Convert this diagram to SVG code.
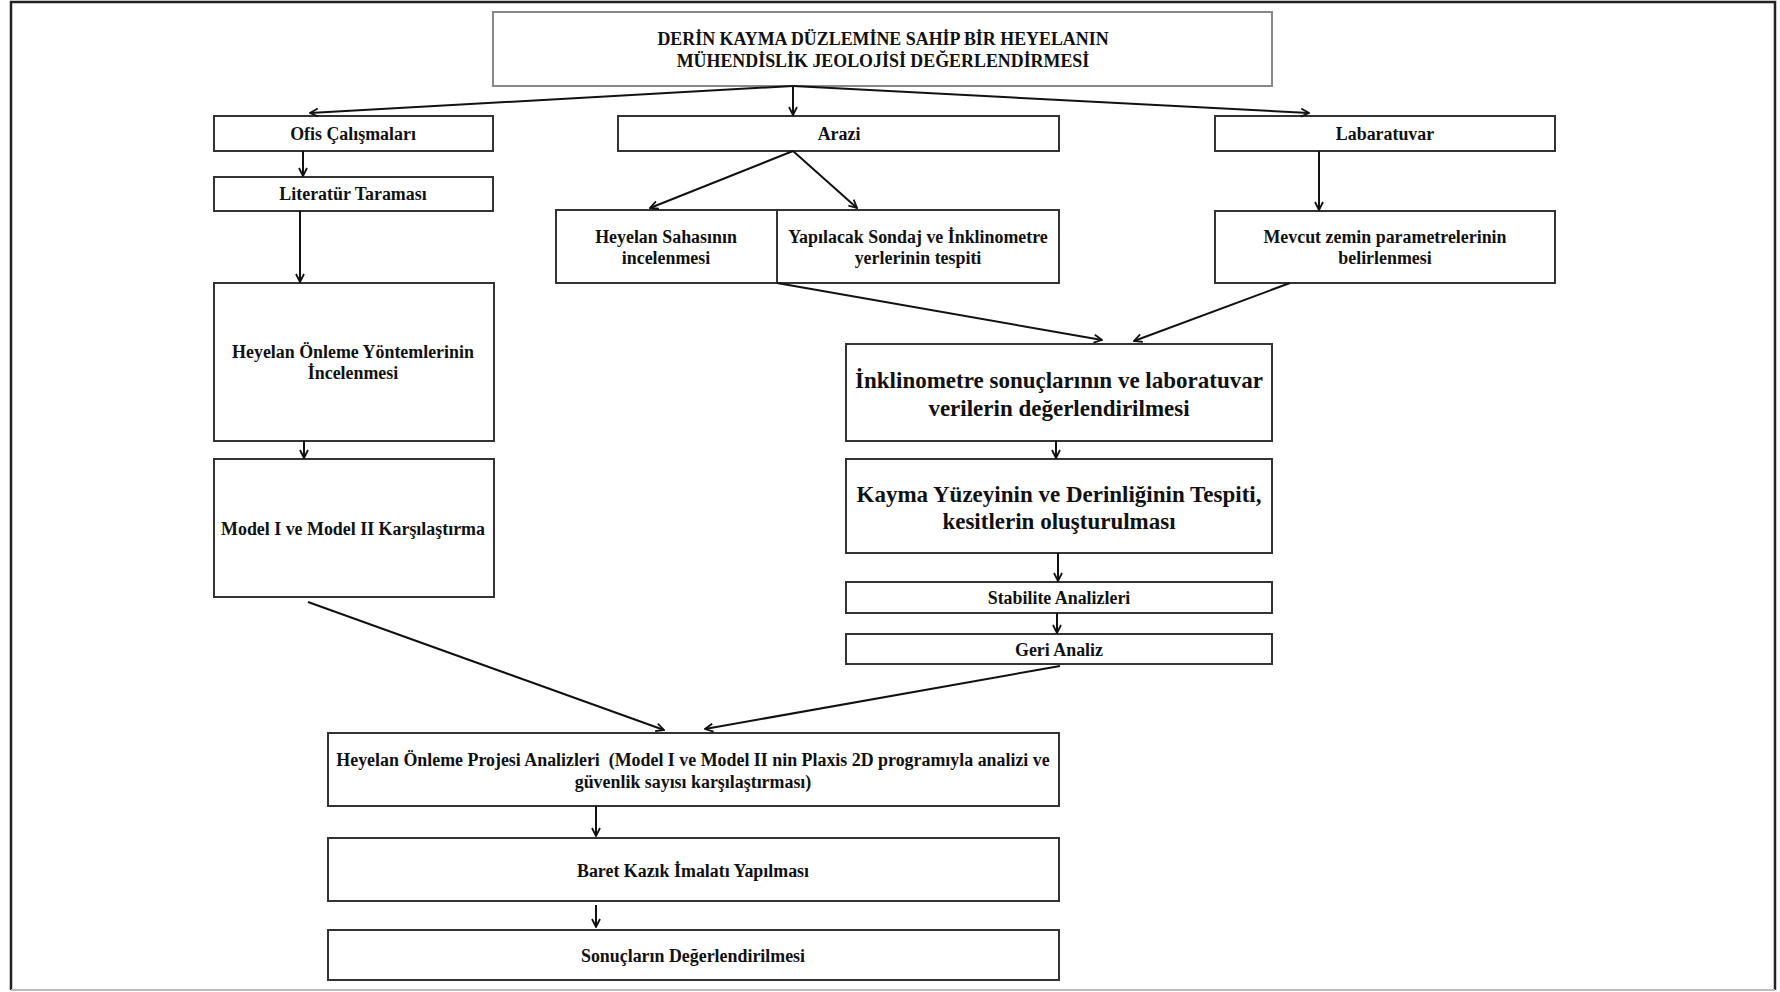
<svg xmlns="http://www.w3.org/2000/svg" width="1780" height="992" viewBox="0 0 1780 992">
<defs>
<style>
.box{fill:#fff;stroke:#333;stroke-width:2}
.tbox{fill:#fff;stroke:#888;stroke-width:2}
.t{font-family:"Liberation Serif","Times New Roman",serif;font-weight:bold;font-size:17.9px;fill:#111;text-anchor:middle;dominant-baseline:central}
.tl{font-family:"Liberation Serif","Times New Roman",serif;font-weight:bold;font-size:23px;fill:#111;text-anchor:middle;dominant-baseline:central}
.c{fill:none;stroke:#111;stroke-width:2}
</style>
<marker id="ah" viewBox="0 0 10 10" refX="9" refY="5" markerWidth="10" markerHeight="10" markerUnits="userSpaceOnUse" orient="auto">
<path d="M1,1 L9,5 L1,9" fill="none" stroke="#111" stroke-width="1.8"/>
</marker>
</defs>
<rect x="0" y="0" width="1780" height="992" fill="#fff"/>
<path id="frame" d="M11,990 L11,2 L1775,2 L1775,990" fill="none" stroke="#222" stroke-width="2.5"/>
<line x1="11" y1="990" x2="1775" y2="990" stroke="#bbb" stroke-width="2"/>

<g id="title"><rect class="tbox" x="493" y="12" width="779" height="74"/>
<text class="t" x="883" y="39">DERİN KAYMA DÜZLEMİNE SAHİP BİR HEYELANIN</text>
<text class="t" x="883" y="61">MÜHENDİSLİK JEOLOJİSİ DEĞERLENDİRMESİ</text></g>

<g id="ofis"><rect class="box" x="214" y="116" width="279" height="35"/><text class="t" x="353" y="134">Ofis Çalışmaları</text></g>
<g id="arazi"><rect class="box" x="618" y="116" width="441" height="35"/><text class="t" x="839" y="134">Arazi</text></g>
<g id="lab"><rect class="box" x="1215" y="116" width="340" height="35"/><text class="t" x="1385" y="134">Labaratuvar</text></g>

<g id="literatur"><rect class="box" x="214" y="177" width="279" height="34"/><text class="t" x="353" y="194">Literatür Taraması</text></g>

<g id="sahasi"><rect class="box" x="556" y="210" width="221" height="73"/>
<text class="t" x="666" y="237">Heyelan Sahasının</text><text class="t" x="666" y="258">incelenmesi</text></g>
<g id="sondaj"><rect class="box" x="777" y="210" width="282" height="73"/>
<text class="t" x="918" y="237">Yapılacak Sondaj ve İnklinometre</text><text class="t" x="918" y="258">yerlerinin tespiti</text></g>
<g id="mevcut"><rect class="box" x="1215" y="211" width="340" height="72"/>
<text class="t" x="1385" y="237">Mevcut zemin parametrelerinin</text><text class="t" x="1385" y="258">belirlenmesi</text></g>

<g id="yontem"><rect class="box" x="214" y="283" width="280" height="158"/>
<text class="t" x="353" y="352">Heyelan Önleme Yöntemlerinin</text><text class="t" x="353" y="373">İncelenmesi</text></g>
<g id="model"><rect class="box" x="214" y="459" width="280" height="138"/>
<text class="t" x="353" y="529">Model I ve Model II Karşılaştırma</text></g>

<g id="inklino"><rect class="box" x="846" y="344" width="426" height="97"/>
<text class="tl" x="1059" y="380">İnklinometre sonuçlarının ve laboratuvar</text><text class="tl" x="1059" y="408">verilerin değerlendirilmesi</text></g>
<g id="kayma"><rect class="box" x="846" y="459" width="426" height="94"/>
<text class="tl" x="1059" y="494">Kayma Yüzeyinin ve Derinliğinin Tespiti,</text><text class="tl" x="1059" y="521">kesitlerin oluşturulması</text></g>
<g id="stabilite"><rect class="box" x="846" y="582" width="426" height="31"/><text class="t" x="1059" y="598">Stabilite Analizleri</text></g>
<g id="geri"><rect class="box" x="846" y="634" width="426" height="30"/><text class="t" x="1059" y="650">Geri Analiz</text></g>

<g id="proje"><rect class="box" x="328" y="733" width="731" height="73"/>
<text class="t" x="693" y="760" xml:space="preserve">Heyelan Önleme Projesi Analizleri  (Model I ve Model II nin Plaxis 2D programıyla analizi ve</text>
<text class="t" x="693" y="782">güvenlik sayısı karşılaştırması)</text></g>
<g id="baret"><rect class="box" x="328" y="838" width="731" height="63"/><text class="t" x="693" y="871">Baret Kazık İmalatı Yapılması</text></g>
<g id="sonuc"><rect class="box" x="328" y="930" width="731" height="50"/><text class="t" x="693" y="956">Sonuçların Değerlendirilmesi</text></g>

<g id="connectors">
<line class="c" x1="793" y1="86" x2="310" y2="113" stroke-width="2.5" marker-end="url(#ah)"/>
<line class="c" x1="793" y1="86" x2="793" y2="115" marker-end="url(#ah)"/>
<line class="c" x1="793" y1="86" x2="1309" y2="113" stroke-width="2.5" marker-end="url(#ah)"/>
<line class="c" x1="303" y1="151" x2="303" y2="176" marker-end="url(#ah)"/>
<line class="c" x1="793" y1="151" x2="650" y2="208" marker-end="url(#ah)"/>
<line class="c" x1="793" y1="151" x2="857" y2="208" marker-end="url(#ah)"/>
<line class="c" x1="1319" y1="151" x2="1319" y2="210" marker-end="url(#ah)"/>
<line class="c" x1="300" y1="211" x2="300" y2="282" marker-end="url(#ah)"/>
<line class="c" x1="777" y1="283" x2="1102" y2="340" marker-end="url(#ah)"/>
<line class="c" x1="1290" y1="283" x2="1134" y2="341" marker-end="url(#ah)"/>
<line class="c" x1="304" y1="441" x2="304" y2="458" marker-end="url(#ah)"/>
<line class="c" x1="1056" y1="441" x2="1056" y2="458" marker-end="url(#ah)"/>
<line class="c" x1="1058" y1="553" x2="1058" y2="581" marker-end="url(#ah)"/>
<line class="c" x1="1057" y1="613" x2="1057" y2="633" marker-end="url(#ah)"/>
<line class="c" x1="308" y1="602" x2="664" y2="730" marker-end="url(#ah)"/>
<line class="c" x1="1060" y1="666" x2="705" y2="729" marker-end="url(#ah)"/>
<line class="c" x1="596" y1="806" x2="596" y2="836" marker-end="url(#ah)"/>
<line class="c" x1="596" y1="905" x2="596" y2="927" marker-end="url(#ah)"/>
</g>
</svg>
